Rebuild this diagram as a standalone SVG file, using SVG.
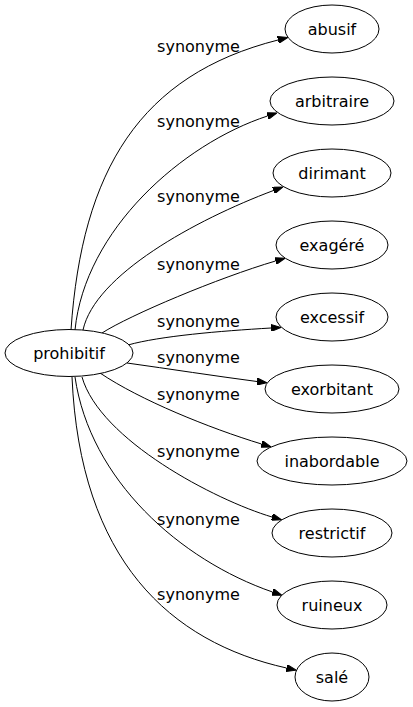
<svg xmlns="http://www.w3.org/2000/svg" width="413" height="707" viewBox="0 0 413 707">
<style>
  .node ellipse { fill: #ffffff; stroke: #000000; stroke-width: 1; }
  .node text { font-family: "DejaVu Sans", "Liberation Sans", sans-serif; font-size: 16px; fill: #000000; text-anchor: middle; }
  .edges path { fill: none; stroke: #000000; stroke-width: 1; marker-end: url(#arr); }
  .edges text { font-family: "DejaVu Sans", "Liberation Sans", sans-serif; font-size: 16px; fill: #000000; text-anchor: middle; }
</style>
<defs>
  <marker id="arr" markerWidth="10" markerHeight="7" refX="0" refY="3.5" orient="auto" markerUnits="userSpaceOnUse">
    <polygon points="0,0 10,3.5 0,7" fill="#000000" stroke="#000000" stroke-width="1"/>
  </marker>
</defs>
<rect width="413" height="707" fill="#ffffff"/>
<g id="edges" class="edges">
  <path d="M71,330 C82,170 140,75 278,40"/>
  <text x="198.5" y="52">synonyme</text>
  <path d="M75,330 C85,230 182,144 267.5,116"/>
  <text x="198.5" y="127">synonyme</text>
  <path d="M83,330 C95,275 195,220 273.5,190.5"/>
  <text x="198.5" y="202">synonyme</text>
  <path d="M102,333 C130,315 218,278 275.5,261"/>
  <text x="198.5" y="270">synonyme</text>
  <path d="M128,345 C160,336 220,331 271,328"/>
  <text x="198.5" y="327">synonyme</text>
  <path d="M127,363 C170,369 215,376 257,381.5"/>
  <text x="198.5" y="363">synonyme</text>
  <path d="M100,373 C140,400 209,428 261.5,444"/>
  <text x="198.5" y="400">synonyme</text>
  <path d="M82,377 C100,440 215,500 272,517"/>
  <text x="198.5" y="457">synonyme</text>
  <path d="M75,377 C90,480 180,560 272.5,592"/>
  <text x="198.5" y="525">synonyme</text>
  <path d="M72,377 C80,560 170,642 286.5,668"/>
  <text x="198.5" y="600">synonyme</text>
</g>
<g id="node-prohibitif" class="node"><ellipse cx="69" cy="353" rx="64" ry="23.5"/><text x="69" y="358.5">prohibitif</text></g>
<g id="node-abusif" class="node"><ellipse cx="332" cy="29" rx="47" ry="24"/><text x="332" y="34.5">abusif</text></g>
<g id="node-arbitraire" class="node"><ellipse cx="332" cy="101" rx="62" ry="24"/><text x="332" y="106.5">arbitraire</text></g>
<g id="node-dirimant" class="node"><ellipse cx="332" cy="173" rx="59" ry="24"/><text x="332" y="178.5">dirimant</text></g>
<g id="node-exagere" class="node"><ellipse cx="332" cy="245" rx="56" ry="24"/><text x="332" y="250.5">exagéré</text></g>
<g id="node-excessif" class="node"><ellipse cx="332" cy="317" rx="56" ry="24"/><text x="332" y="322.5">excessif</text></g>
<g id="node-exorbitant" class="node"><ellipse cx="332" cy="389" rx="67" ry="24"/><text x="332" y="394.5">exorbitant</text></g>
<g id="node-inabordable" class="node"><ellipse cx="332" cy="461" rx="75" ry="24"/><text x="332" y="466.5">inabordable</text></g>
<g id="node-restrictif" class="node"><ellipse cx="332" cy="533" rx="60" ry="24"/><text x="332" y="538.5">restrictif</text></g>
<g id="node-ruineux" class="node"><ellipse cx="332" cy="605" rx="55" ry="24"/><text x="332" y="610.5">ruineux</text></g>
<g id="node-sale" class="node"><ellipse cx="332" cy="677" rx="37" ry="24"/><text x="332" y="682.5">salé</text></g>
</svg>
